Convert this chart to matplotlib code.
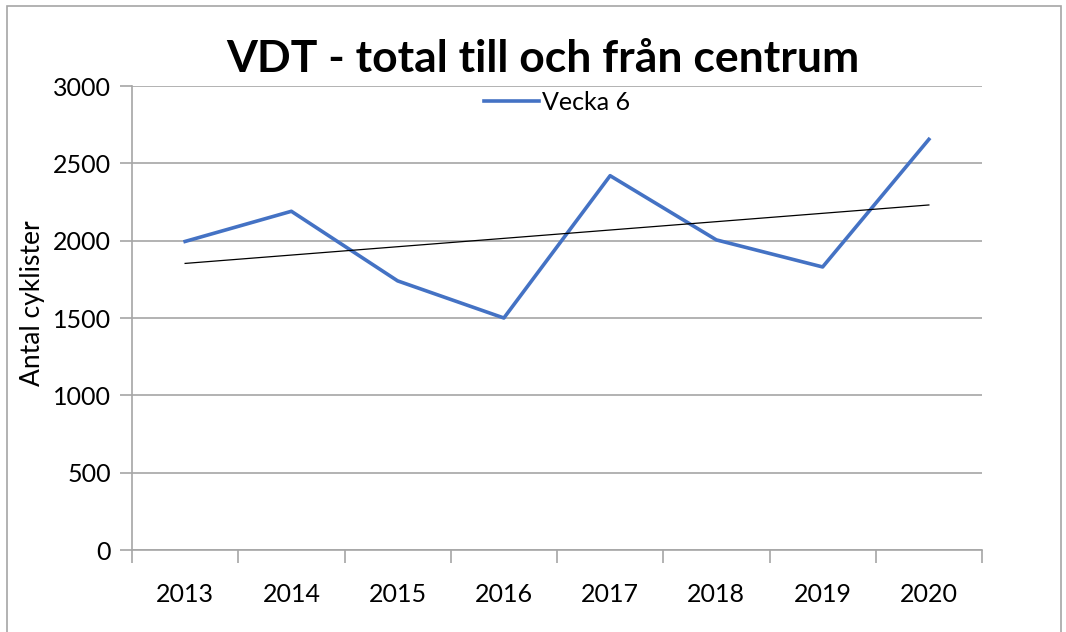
import numpy as np
import matplotlib.pyplot as plt
from matplotlib.patches import Rectangle

years = ["2013", "2014", "2015", "2016", "2017", "2018", "2019", "2020"]
vecka6 = [1995, 2190, 1740, 1500, 2420, 2005, 1830, 2655]

plt.rcParams['font.family'] = ['Lato', 'DejaVu Sans']

fig = plt.figure(figsize=(10.66, 6.32), dpi=100)
W, H = 1066, 632
ax = fig.add_axes([132 / W, 1 - 550 / H, (982 - 132) / W, (550 - 86) / H])

x = np.arange(len(years))
ax.plot(x, vecka6, color="#4472C4", lw=2.6, label="Vecka 6", solid_joinstyle="round")

# linear trend line
k, m = np.polyfit(x, vecka6, 1)
ax.plot(x, k * x + m, color="black", lw=0.9)

ax.set_xlim(-0.5, len(years) - 0.5)
ax.set_ylim(0, 3000)
ax.set_yticks(range(0, 3001, 500))
ax.set_xticks(x)
ax.set_xticklabels(years)
ax.set_xticks(np.arange(-0.5, len(years), 1), minor=True)
ax.tick_params(axis="x", which="major", length=0, pad=24, labelsize=18)
ax.tick_params(axis="x", which="minor", length=9, color="#A6A6A6", width=1.2)
ax.tick_params(axis="y", length=9, color="#A6A6A6", width=1.2, pad=6, labelsize=18)
ax.grid(axis="y", color="#A6A6A6", lw=1.2)
ax.set_axisbelow(True)
for s in ["top", "right"]:
    ax.spines[s].set_visible(False)
for s in ["left", "bottom"]:
    ax.spines[s].set_color("#A6A6A6")
    ax.spines[s].set_linewidth(1.2)

ax.set_ylabel("Antal cyklister", fontsize=19, va="center")
ax.yaxis.set_label_coords((33 - 132) / 850, (550 - 303) / 464)

fig.text(543 / W, 1 - 59 / H, "VDT - total till och från centrum", ha="center", va="center",
         fontsize=32, fontweight="bold")

ax.legend(loc="center", bbox_to_anchor=(0.5, 1 - 16 / 464), frameon=False, fontsize=18,
          handlelength=2.2, handletextpad=0.15, borderpad=0)

fig.patches.append(Rectangle((7 / W, -0.05), (1061 - 7) / W, 1 - 6 / H + 0.05, transform=fig.transFigure,
                             fill=False, edgecolor="#A6A6A6", lw=1.2))

fig.savefig("out.png", dpi=100)
